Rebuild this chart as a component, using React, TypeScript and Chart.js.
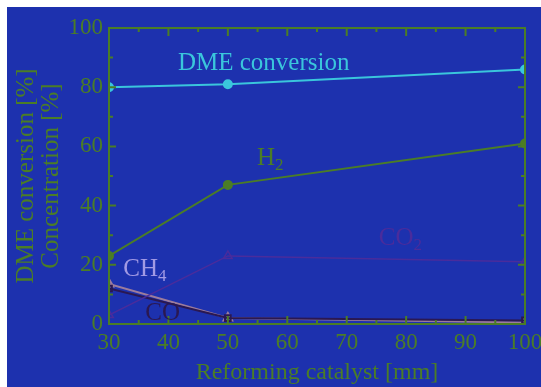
import React, { useEffect, useRef } from "react";
import { Chart, registerables } from "chart.js";
Chart.register(...registerables);

// ---- data ----
const catalystLength = [30, 50, 100];
const dmeConversion = [80, 81, 86];
const h2Conc = [23, 47, 61];
const co2Conc = [3, 23, 21];
const ch4Conc = [13.5, 2, 0.5];
const coConc = [12, 2, 1.2];
const xTickValues = [30, 40, 50, 60, 70, 80, 90, 100];
const yTickValues = [0, 20, 40, 60, 80, 100];

const BG = "#1d31ae";
const GREEN = "#4b7d26";
const CYAN = "#3ac6dc";
const PURPLE = "#4a2c9c";
const PINK = "#9c7c9c";
const LAVENDER = "#a29ae4";
const DARK = "#2a1852";
const FONT = "'Liberation Serif', 'DejaVu Serif', serif";

// label annotations (data coordinates)
const labelTexts = ["DME conversion", "H", "CO", "CH", "CO"];
const labelSubs = ["", "2", "2", "4", ""];
const labelX = [41.6, 54.9, 75.4, 32.4, 36.1];
const labelY = [85.8, 53.7, 26.7, 16.2, 1.4];
const labelColors = [CYAN, GREEN, PURPLE, LAVENDER, DARK];

const pts = (ys: number[]) => ys.map((y, i) => ({ x: catalystLength[i], y }));

const framePlugin = {
  id: "frameTicks",
  afterDraw(chart: any) {
    const { ctx, chartArea: a } = chart;
    const xs = chart.scales.x;
    const ys = chart.scales.y;
    ctx.save();
    ctx.strokeStyle = GREEN;
    ctx.lineWidth = 2;
    ctx.strokeRect(a.left, a.top, a.right - a.left, a.bottom - a.top);
    ctx.beginPath();
    for (let v = 30; v <= 100; v += 5) {
      const px = xs.getPixelForValue(v);
      const len = v % 10 === 0 ? 8 : 4;
      ctx.moveTo(px, a.bottom);
      ctx.lineTo(px, a.bottom - len);
      ctx.moveTo(px, a.top);
      ctx.lineTo(px, a.top + len);
    }
    for (let v = 0; v <= 100; v += 10) {
      const py = ys.getPixelForValue(v);
      const len = v % 20 === 0 ? 7 : 4;
      ctx.moveTo(a.left, py);
      ctx.lineTo(a.left + len, py);
      ctx.moveTo(a.right, py);
      ctx.lineTo(a.right - len, py);
    }
    ctx.stroke();
    // labels
    ctx.textBaseline = "alphabetic";
    ctx.textAlign = "left";
    labelTexts.forEach((t, i) => {
      const px = xs.getPixelForValue(labelX[i]);
      const py = ys.getPixelForValue(labelY[i]);
      ctx.fillStyle = labelColors[i];
      ctx.font = `25px ${FONT}`;
      ctx.fillText(t, px, py);
      if (labelSubs[i]) {
        const w = ctx.measureText(t).width;
        ctx.font = `17px ${FONT}`;
        ctx.fillText(labelSubs[i], px + w, py + 5);
      }
    });
    ctx.restore();
  },
};

export default function App() {
  const ref = useRef<HTMLCanvasElement>(null);
  useEffect(() => {
    if (!ref.current) return;
    const chart = new Chart(ref.current, {
      type: "line",
      data: {
        datasets: [
          {
            label: "DME conversion",
            data: pts(dmeConversion),
            borderColor: CYAN,
            backgroundColor: CYAN,
            borderWidth: 2,
            pointStyle: "circle",
            pointRadius: 4,
          },
          {
            label: "H2",
            data: pts(h2Conc),
            borderColor: GREEN,
            backgroundColor: GREEN,
            borderWidth: 2,
            pointStyle: "circle",
            pointRadius: 4,
          },
          {
            label: "CO2",
            data: pts(co2Conc),
            borderColor: PURPLE,
            backgroundColor: "rgba(0,0,0,0)",
            borderWidth: 1.5,
            pointStyle: "triangle",
            pointRadius: 5,
          },
          {
            label: "CO",
            data: pts(coConc),
            borderColor: DARK,
            backgroundColor: "rgba(0,0,0,0)",
            borderWidth: 2,
            pointStyle: "rect",
            pointRadius: 4,
          },
          {
            label: "CH4",
            data: pts(ch4Conc),
            borderColor: PINK,
            backgroundColor: "rgba(0,0,0,0)",
            borderWidth: 2,
            pointStyle: "triangle",
            pointRadius: 5,
          },
        ],
      },
      options: {
        animation: false,
        responsive: false,
        layout: { padding: { top: 21, right: 16, left: 0, bottom: 0 } },
        plugins: { legend: { display: false }, tooltip: { enabled: false } },
        scales: {
          x: {
            type: "linear",
            min: 30,
            max: 100,
            afterBuildTicks: (s: any) => {
              s.ticks = xTickValues.map((v) => ({ value: v }));
            },
            afterFit: (s: any) => {
              s.height = 63;
              s.paddingLeft = 0;
              s.paddingRight = 0;
            },
            grid: { display: false, drawTicks: false },
            border: { display: false },
            ticks: { color: GREEN, font: { family: FONT, size: 23 }, padding: 5, maxRotation: 0 },
            title: {
              display: true,
              text: "Reforming catalyst [mm]",
              color: GREEN,
              font: { family: FONT, size: 24 },
              padding: { top: 0, bottom: 0 },
            },
          },
          y: {
            type: "linear",
            min: 0,
            max: 100,
            afterBuildTicks: (s: any) => {
              s.ticks = yTickValues.map((v) => ({ value: v }));
            },
            afterFit: (s: any) => {
              s.width = 102;
              s.paddingTop = 0;
              s.paddingBottom = 0;
            },
            grid: { display: false, drawTicks: false },
            border: { display: false },
            ticks: { color: GREEN, font: { family: FONT, size: 23 }, padding: 6 },
            title: {
              display: true,
              text: ["DME conversion [%]", "Concentration [%]"],
              color: GREEN,
              font: { family: FONT, size: 25, lineHeight: "25px" },
              padding: { top: 7, bottom: 0 },
            },
          },
        },
      },
      plugins: [framePlugin],
    } as any);
    return () => chart.destroy();
  }, []);
  return (
    <div
      style={{
        position: "fixed",
        left: 7,
        top: 7,
        width: 534,
        height: 380,
        background: BG,
      }}
    >
      <canvas ref={ref} width={534} height={380} style={{ display: "block" }} />
    </div>
  );
}
